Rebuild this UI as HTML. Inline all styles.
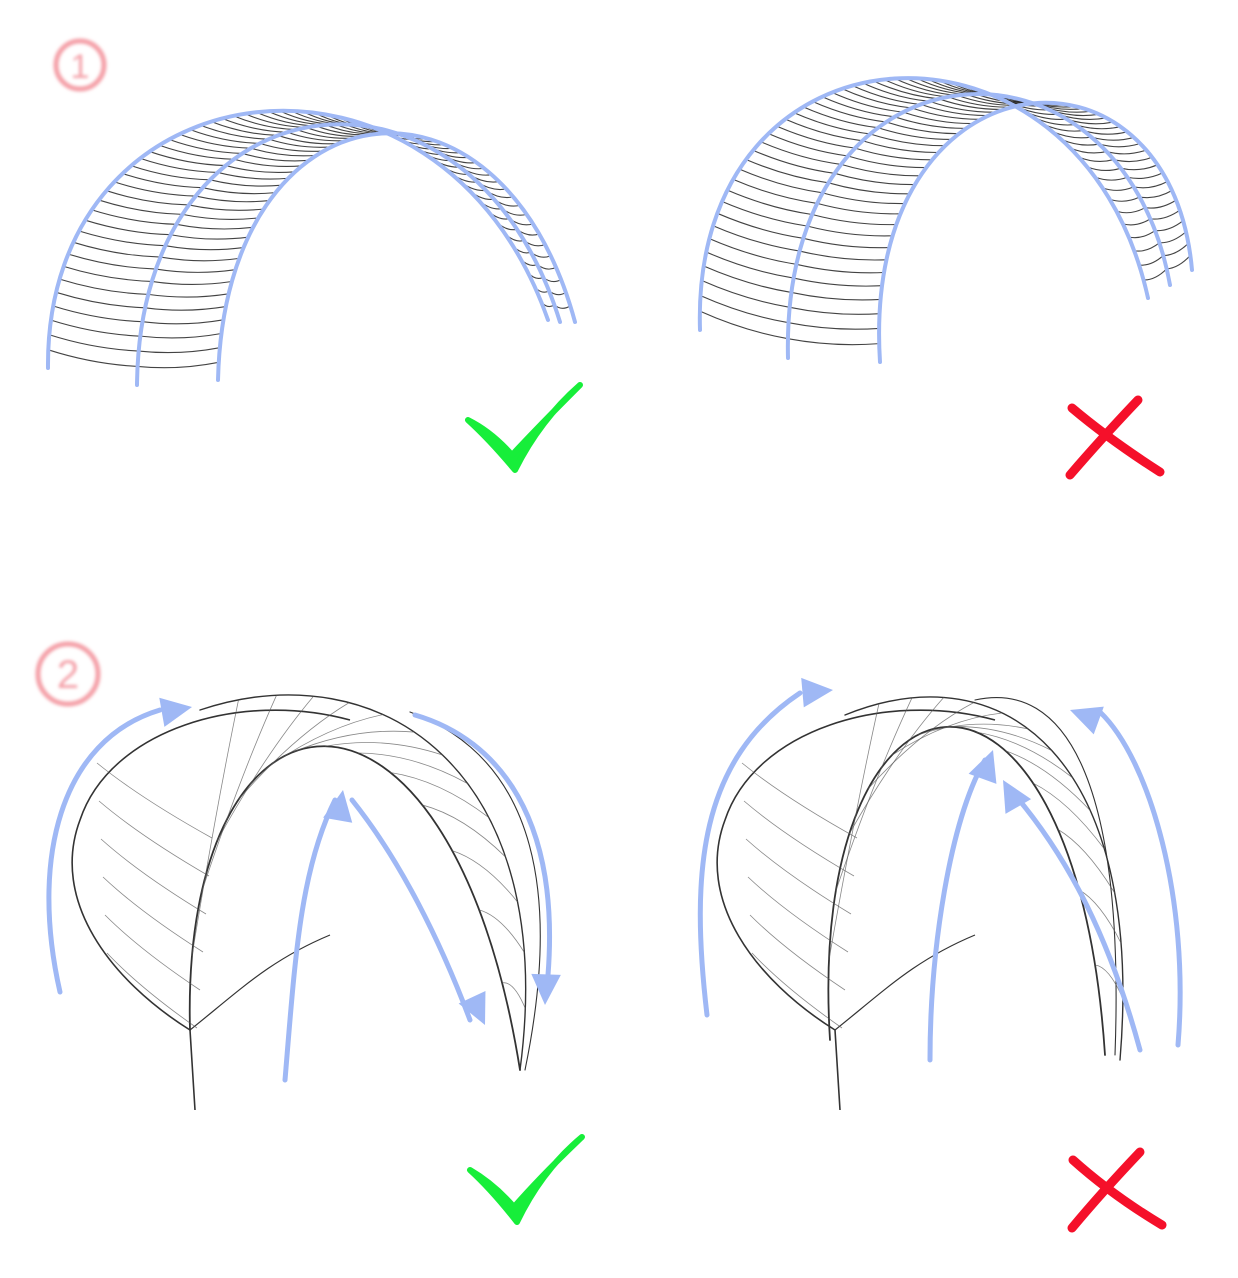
<!DOCTYPE html>
<html><head><meta charset="utf-8"><style>
html,body{margin:0;padding:0;background:#fff;width:1238px;height:1278px;overflow:hidden}
svg{display:block}
</style></head><body>
<svg id="s" width="1238" height="1278" viewBox="0 0 1238 1278" xmlns="http://www.w3.org/2000/svg">
<defs><filter id="bl"><feGaussianBlur stdDeviation="1.5"/></filter></defs>
<g filter="url(#bl)" stroke="#f4a0a8" fill="none" stroke-width="5">
<circle cx="80" cy="65" r="24"/>
<circle cx="68" cy="674" r="30"/>
</g>
<text x="80" y="78" font-family="Liberation Sans, sans-serif" font-size="34" fill="#f4a0a8" text-anchor="middle" filter="url(#bl)">1</text>
<text x="68" y="688" font-family="Liberation Sans, sans-serif" font-size="40" fill="#f4a0a8" text-anchor="middle" filter="url(#bl)">2</text>
<g id="g"></g>
<path d="M468 420 Q490 440 515 470 Q540 420 580 385 Q540 425 512 455 Q492 432 468 420Z" fill="#17ee3a" stroke="#17ee3a" stroke-width="6" stroke-linejoin="round"/>
<path d="M470 1170 Q492 1190 517 1222 Q542 1170 582 1137 Q542 1175 514 1207 Q494 1184 470 1170Z" fill="#17ee3a" stroke="#17ee3a" stroke-width="6" stroke-linejoin="round"/>
<g stroke="#f5102a" stroke-linecap="round" fill="none">
<path d="M1072 408 Q1110 440 1160 472" stroke-width="9"/>
<path d="M1138 400 Q1100 440 1070 475" stroke-width="9"/>
<path d="M1073 1160 Q1112 1195 1162 1225" stroke-width="9"/>
<path d="M1140 1152 Q1102 1192 1072 1228" stroke-width="9"/>
</g>
</svg>
<script>
var g=document.getElementById('g'),NS='http://www.w3.org/2000/svg';
function el(t,a){var e=document.createElementNS(NS,t);for(var k in a)e.setAttribute(k,a[k]);g.appendChild(e);return e;}
function cb(p,t){var u=1-t;return[u*u*u*p[0]+3*u*u*t*p[2]+3*u*t*t*p[4]+t*t*t*p[6],u*u*u*p[1]+3*u*u*t*p[3]+3*u*t*t*p[5]+t*t*t*p[7]];}
function cd(p){return 'M'+p[0]+' '+p[1]+' C'+p.slice(2).join(' ');}
function line(p,c,w,o){el('path',{d:cd(p),stroke:c,'stroke-width':w,fill:'none','stroke-linecap':'round',opacity:o||1});}
function band(A,B,n,t0,t1){
  line(A,'#333',1.3);line(B,'#333',1.3);
  for(var i=0;i<=n;i++){var t=t0+(t1-t0)*i/n,a=cb(A,t),b=cb(B,t);
    var mx=(a[0]+b[0])/2,my=(a[1]+b[1])/2+6;
    el('path',{d:'M'+a[0]+' '+a[1]+' Q'+mx+' '+my+' '+b[0]+' '+b[1],stroke:'#222','stroke-width':1.1,fill:'none',opacity:0.85});}
}
var blue='#9fb8f5';
var L1=[48,368,45,60,440,10,548,320],M1=[137,385,140,70,470,30,560,322],R1=[218,380,225,80,500,45,575,322];
band(L1,M1,56,0.02,0.98);band(M1,R1,56,0.02,0.98);
line(L1,blue,4);line(M1,blue,4);line(R1,blue,4);
var L2=[700,330,690,10,1080,-10,1148,298],M2=[788,358,780,30,1120,10,1170,285],R2=[880,362,860,50,1170,20,1192,270];
band(L2,M2,56,0.02,0.98);band(M2,R2,56,0.02,0.98);
line(L2,blue,4);line(M2,blue,4);line(R2,blue,4);
function leaf(ox,right){
  var s='#333';
  var mid=right?[ox+185,1040,ox+160,640,ox+430,600,ox+460,1055]:[190,1030,180,660,450,630,520,1070];
  el('path',{d:'M'+(ox+195)+' 1110 L'+(ox+190)+' 1030 C'+(ox+110)+' 980 '+(ox+50)+' 900 '+(ox+80)+' 820 C'+(ox+110)+' 730 '+(ox+240)+' 690 '+(ox+350)+' 720',stroke:s,'stroke-width':1.6,fill:'none'});
  el('path',{d:'M'+(ox+190)+' 1030 C'+(ox+240)+' 990 '+(ox+270)+' 960 '+(ox+330)+' 935',stroke:s,'stroke-width':1.2,fill:'none'});
  line(mid,s,1.8);
  var o2=right?[ox+200,715,ox+360,650,ox+500,760,ox+475,1060]:[200,710,380,650,560,770,520,1070];
  line(o2,s,1.4);
  var o3=right?[ox+330,700,ox+420,680,ox+480,780,ox+470,1055]:[410,712,540,760,560,900,525,1070];
  line(o3,s,1.1);
  for(var i=1;i<14;i++){var t=i/14,a=cb(mid,t),b=cb(o2,t);
    el('path',{d:'M'+a[0]+' '+a[1]+' Q'+((a[0]+b[0])/2)+' '+((a[1]+b[1])/2-15)+' '+b[0]+' '+b[1],stroke:'#555','stroke-width':0.8,fill:'none',opacity:0.7});}
  for(var i=1;i<7;i++){var y=760+i*38;
    el('path',{d:'M'+(ox+215-i*3)+' '+(y+40)+' Q'+(ox+140)+' '+(y)+' '+(ox+95+i*2)+' '+(y-35),stroke:'#555','stroke-width':0.8,fill:'none',opacity:0.7});}
}
leaf(0,false);leaf(645,true);
function arr(d,hx,hy,ang){el('path',{d:d,stroke:blue,'stroke-width':5,fill:'none','stroke-linecap':'round'});
  var a=ang*Math.PI/180,p=function(r,da){return (hx+r*Math.cos(a+da))+','+(hy+r*Math.sin(a+da));};
  el('polygon',{points:p(0,0)+' '+p(-34,0.45)+' '+p(-34,-0.45),fill:blue});}
arr('M60 992 C30 860 60 740 160 710',192,707,-10);
arr('M285 1080 C295 960 300 870 335 800',343,790,-80);
arr('M352 800 C400 860 440 940 470 1020',485,1025,65);
arr('M415 715 C500 740 560 820 548 975',545,1005,92);
arr('M707 1015 C690 870 700 760 800 693',833,690,-5);
arr('M930 1060 C930 950 950 820 985 760',993,750,-70);
arr('M1015 795 C1070 860 1110 940 1140 1050',1003,780,-120);
arr('M1178 1045 C1190 900 1150 760 1100 712',1070,710,200);
</script>
</body></html>
